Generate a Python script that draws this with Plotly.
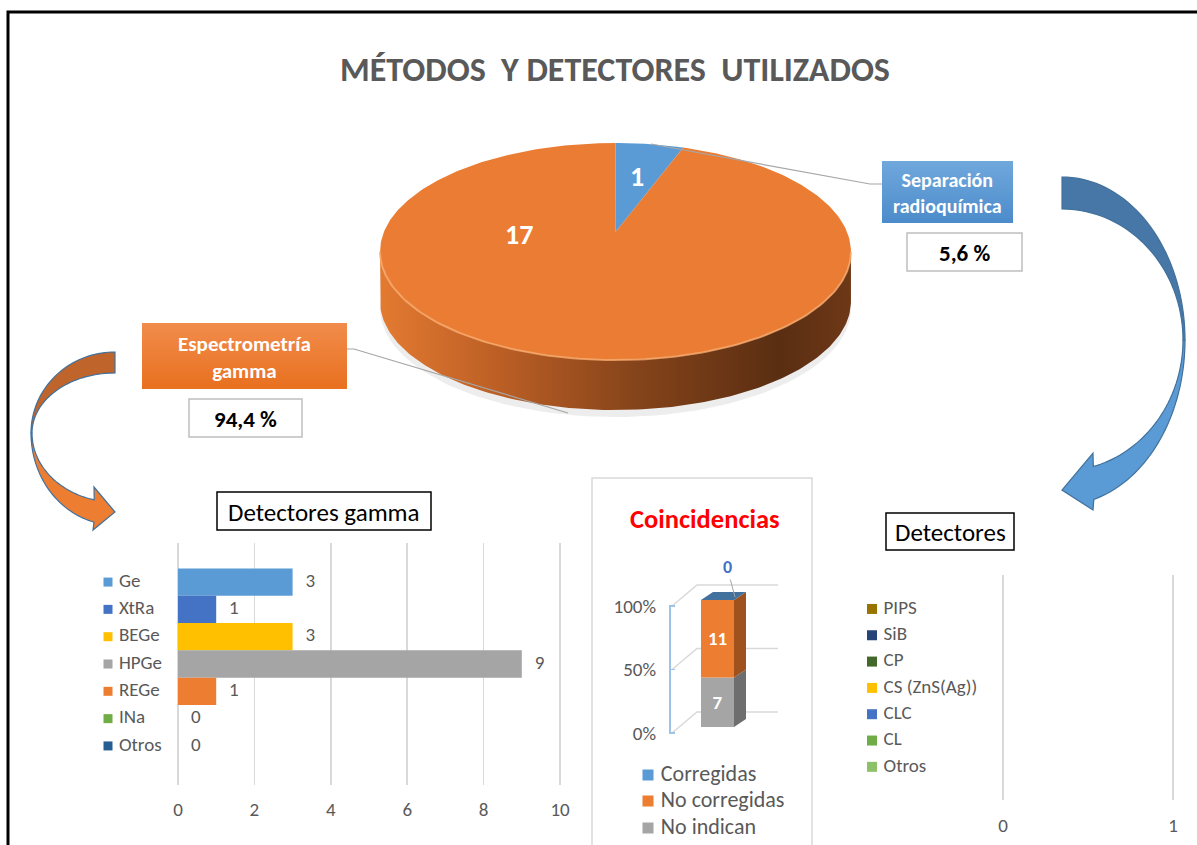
import numpy as np
import plotly.graph_objects as go

W, H = 1197, 845
FONT = "Carlito, Calibri, Lato, 'Open Sans', sans-serif"
GRAY = "#595959"

# ------------------------------------------------------------------ data
chart_title = "MÉTODOS\u00a0 Y DETECTORES\u00a0 UTILIZADOS"

method_names = ["Separación<br>radioquímica", "Espectrometría<br>gamma"]
method_counts = [1, 17]
method_share = ["5,6 %", "94,4 %"]
method_colors = ["#5B9BD5", "#EB7C33"]

gamma_title = "Detectores gamma"
gamma_detectors = ["Ge", "XtRa", "BEGe", "HPGe", "REGe", "INa", "Otros"]
gamma_counts = [3, 1, 3, 9, 1, 0, 0]
gamma_colors = ["#5B9BD5", "#4472C4", "#FFC000", "#A5A5A5", "#ED7D31", "#70AD47", "#255E91"]
gamma_ticks = [0, 2, 4, 6, 8, 10]

coin_title = "Coincidencias"
coin_series = ["Corregidas", "No corregidas", "No indican"]
coin_counts = [0, 11, 7]
coin_colors = ["#5B9BD5", "#ED7D31", "#A5A5A5"]
coin_side_colors = ["#41719C", "#A0521E", "#6E6E6E"]
coin_ticks = [0, 50, 100]
coin_ticklabels = ["0%", "50%", "100%"]

other_title = "Detectores"
other_detectors = ["PIPS", "SiB", "CP", "CS (ZnS(Ag))", "CLC", "CL", "Otros"]
other_counts = [0, 0, 0, 0, 0, 0, 0]
other_colors = ["#997300", "#264478", "#43682B", "#FFC000", "#4472C4", "#70AD47", "#8CC168"]
other_ticks = [0, 1]


def px(x):
    return x / W


def py(y):
    return 1 - y / H


fig = go.Figure()
shapes = []
annotations = []


def note(x, y, text, size, color, **kw):
    d = dict(x=px(x), y=py(y), xref="paper", yref="paper", text=text, showarrow=False,
             xanchor="center", yanchor="middle",
             font=dict(family=FONT, size=size, color=color))
    d.update(kw)
    annotations.append(d)


# ------------------------------------------------------------------ 3D pie (overlay axis x5/y5 in pixel units)
PCX, PCY = 615.5, 232.0
PA, PB, PE = 231.6, 105.0, 0.18
PDEPTH = 50


def disk_pt(theta_deg, f=1.0, dy=0.0):
    t = np.radians(theta_deg)
    s = 1.0 / (1.0 + PE * f * np.cos(t))
    return PCX + PA * f * np.sin(t) * s, PCY - PB * f * np.cos(t) * s + dy


ov = dict(xaxis="x5", yaxis="y5", hoverinfo="skip", showlegend=False)

# soft shadow
th = np.linspace(0, 360, 181)
sx, sy = disk_pt(th, 1.0, PDEPTH + 7)
fig.add_trace(go.Scatter(x=sx, y=sy, fill="toself", fillcolor="rgba(0,0,0,0.07)",
                         mode="lines", line=dict(width=0), **ov))

# side wall
tR = np.degrees(np.arccos(-PE))
th = np.linspace(tR, 360 - tR, 160)
tx, ty = disk_pt(th)
bx, by = disk_pt(th[::-1], 1.0, PDEPTH)
fig.add_trace(go.Scatter(
    x=np.concatenate([tx, bx]), y=np.concatenate([ty, by]), fill="toself",
    fillgradient=dict(type="horizontal",
                      colorscale=[[0, "#E37A31"], [0.25, "#BC5F25"], [0.55, "#84431A"],
                                  [0.85, "#5A2E12"], [1, "#6E3817"]]),
    mode="lines", line=dict(width=0), **ov))

# top face slices
total = sum(method_counts)
start = 0.0
for cnt, col in zip(method_counts, method_colors):
    a1 = start + 360.0 * cnt / total
    th = np.linspace(start, a1, max(4, int(a1 - start) + 2))
    xx, yy = disk_pt(th)
    fig.add_trace(go.Scatter(x=np.concatenate([[PCX], xx, [PCX]]),
                             y=np.concatenate([[PCY], yy, [PCY]]),
                             fill="toself", fillcolor=col, mode="lines",
                             line=dict(width=0), **ov))
    start = a1

# rim highlight on the front edge
th = np.linspace(tR, 360 - tR, 120)
rx_, ry_ = disk_pt(th)
fig.add_trace(go.Scatter(x=rx_, y=ry_, mode="lines",
                         line=dict(color="rgba(246,170,110,0.8)", width=2), **ov))

# slice labels
note(637, 176, "<b>%d</b>" % method_counts[0], 28, "white")
note(519, 234, "<b>%d</b>" % method_counts[1], 28, "white")


# ------------------------------------------------------------------ callout boxes
def grad_box(x0, y0, x1, y1, top, bottom):
    fig.add_trace(go.Scatter(x=[x0, x1, x1, x0, x0], y=[y0, y0, y1, y1, y0],
                             fill="toself",
                             fillgradient=dict(type="vertical",
                                               colorscale=[[0, bottom], [1, top]]),
                             mode="lines", line=dict(width=0), **ov))


grad_box(882, 161, 1013, 223, "#70A8DC", "#4C8BCB")
grad_box(142, 323, 347, 389, "#F18C4C", "#E8701F")

note(947.5, 193, "<b>%s</b>" % method_names[0], 20, "white")
note(244.5, 357, "<b>%s</b>" % method_names[1], 21, "white")

for (x0, y0, x1, y1), txt in zip([(907, 233, 1022, 271), (189, 399, 302, 437)], method_share):
    shapes.append(dict(type="rect", xref="paper", yref="paper", x0=px(x0), x1=px(x1),
                       y0=py(y0), y1=py(y1), fillcolor="white",
                       line=dict(color="#BFBFBF", width=1.5), layer="below"))
    note((x0 + x1) / 2, (y0 + y1) / 2 + 1, "<b>%s</b>" % txt, 23, "black")

# leader lines
for pts in ([(651, 144), (870, 184), (882, 184)], [(347, 349), (354, 349), (568, 413)]):
    path = "M " + " L ".join("%f,%f" % (px(a), py(b)) for a, b in pts)
    shapes.append(dict(type="path", xref="paper", yref="paper", path=path,
                       line=dict(color="#A6A6A6", width=1.2), layer="above"))


# ------------------------------------------------------------------ curved arrows
def ell(cx, cy, rx, ry, t, side):
    t = np.radians(t)
    return cx + side * rx * np.sin(t), cy - ry * np.cos(t)


def path_of(points):
    return "M " + " L ".join("%f,%f" % (px(a), py(b)) for a, b in points) + " Z"


def curved_arrow(cx, cy, side, ro, ri_top, ro_bot, ri_bot, rxo, rxi, tend,
                 barb_in, barb_out, tip, c_top, c_bot, edge):
    t1 = np.linspace(0, 90, 40)
    ox, oy = ell(cx, cy, rxo, ro, t1, side)
    ix, iy = ell(cx, cy, rxi, ri_top, t1[::-1], side)
    pts = list(zip(ox, oy)) + list(zip(ix, iy))
    shapes.append(dict(type="path", xref="paper", yref="paper", path=path_of(pts),
                       fillcolor=c_top, line=dict(color=edge, width=1.2), layer="above"))
    t2 = np.linspace(90, tend, 40)
    ox, oy = ell(cx, cy, rxo, ro_bot, t2, side)
    ix, iy = ell(cx, cy, rxi, ri_bot, t2[::-1], side)
    pts = list(zip(ox, oy)) + [barb_out, tip, barb_in] + list(zip(ix, iy))
    shapes.append(dict(type="path", xref="paper", yref="paper", path=path_of(pts),
                       fillcolor=c_bot, line=dict(color=edge, width=1.2), layer="above"))


curved_arrow(1062, 340, 1, 163, 131, 165, 131, 123, 121, 165,
             (1093, 453), (1093, 510), (1062, 490), "#4677A7", "#5B9BD5", "#41719C")
curved_arrow(115, 433, -1, 81, 60, 92, 69, 84, 83, 165.5,
             (94, 487), (93, 530), (115, 512), "#BF642A", "#ED7D31", "#41719C")

# ------------------------------------------------------------------ frame and panel boxes
shapes.append(dict(type="rect", xref="paper", yref="paper", x0=px(8), x1=px(1210),
                   y0=py(12), y1=py(860), line=dict(color="black", width=3), layer="above"))
shapes.append(dict(type="rect", xref="paper", yref="paper", x0=px(592), x1=px(812),
                   y0=py(478), y1=py(860), line=dict(color="#D9D9D9", width=1.5), layer="below"))

for (x0, y0, x1, y1), txt in zip([(217, 492, 431, 530), (886, 513, 1014, 550)],
                                 [gamma_title, other_title]):
    shapes.append(dict(type="rect", xref="paper", yref="paper", x0=px(x0), x1=px(x1),
                       y0=py(y0), y1=py(y1), line=dict(color="black", width=1.5),
                       fillcolor="white", layer="below"))
    note((x0 + x1) / 2, (y0 + y1) / 2 + 1, txt, 25, "black")

note(614.5, 70, "<b>%s</b>" % chart_title, 34, GRAY)
note(705, 519, "<b>%s</b>" % coin_title, 26.5, "#FF0000")

# ------------------------------------------------------------------ gamma detectors bar chart (x / y)
G0, GPPU = 178.0, 38.2
fig.add_trace(go.Bar(x=gamma_counts, y=gamma_detectors, orientation="h", width=1.0,
                     marker=dict(color=gamma_colors, line=dict(width=0)),
                     hoverinfo="skip", showlegend=False, xaxis="x", yaxis="y"))
fig.add_trace(go.Scatter(x=gamma_counts, y=gamma_detectors, mode="text",
                         text=["\u00a0\u00a0\u00a0%d" % v for v in gamma_counts],
                         textposition="middle right",
                         textfont=dict(family=FONT, size=19, color=GRAY),
                         cliponaxis=False, hoverinfo="skip", showlegend=False,
                         xaxis="x", yaxis="y"))
fig.add_trace(go.Scatter(x=[(108 - G0) / GPPU] * len(gamma_detectors), y=gamma_detectors,
                         mode="markers+text", text=["\u00a0" + s for s in gamma_detectors],
                         textposition="middle right",
                         marker=dict(symbol="square", size=9, color=gamma_colors),
                         textfont=dict(family=FONT, size=19, color=GRAY),
                         cliponaxis=False, hoverinfo="skip", showlegend=False,
                         xaxis="x", yaxis="y"))

# ------------------------------------------------------------------ other detectors chart (x2 / y2)
O0, OPPU = 1003.0, 170.0
fig.add_trace(go.Bar(x=other_counts, y=other_detectors, orientation="h", width=1.0,
                     marker=dict(color=other_colors), hoverinfo="skip", showlegend=False,
                     xaxis="x2", yaxis="y2"))
fig.add_trace(go.Scatter(x=[(872 - O0) / OPPU] * len(other_detectors), y=other_detectors,
                         mode="markers+text", text=["\u00a0" + s for s in other_detectors],
                         textposition="middle right",
                         marker=dict(symbol="square", size=10, color=other_colors),
                         textfont=dict(family=FONT, size=19, color=GRAY),
                         cliponaxis=False, hoverinfo="skip", showlegend=False,
                         xaxis="x2", yaxis="y2"))

# ------------------------------------------------------------------ coincidences 3D stacked column (x3 / y3, labels y4)
C0X, CPPU = 717.5, 33.0
CY0, CPPP = 727.0, 1.27     # bar axis: 0% at pixel 727
LY0 = 733.0                 # label axis: 0% at pixel 733
DDX, DDY = 12 / CPPU, 8 / CPPP
ctot = sum(coin_counts)
pcts = [100.0 * v / ctot for v in coin_counts]
base = 0.0
order = [2, 1, 0]  # bottom to top: No indican, No corregidas, Corregidas
for i in order:
    p = pcts[i]
    fig.add_trace(go.Bar(x=[0], y=[p], base=[base], width=1.0,
                         marker=dict(color=coin_colors[i], line=dict(width=0)),
                         text=["<b>%d</b>" % coin_counts[i]] if coin_counts[i] else None,
                         textposition="inside" if coin_counts[i] else "none",
                         insidetextanchor="middle",
                         textfont=dict(family=FONT, size=19, color="white"),
                         hoverinfo="skip", showlegend=False, xaxis="x3", yaxis="y3"))
    if p > 0:
        fig.add_trace(go.Scatter(x=[0.5, 0.5 + DDX, 0.5 + DDX, 0.5, 0.5],
                                 y=[base, base + DDY, base + p + DDY, base + p, base],
                                 fill="toself", fillcolor=coin_side_colors[i], mode="lines",
                                 line=dict(width=0), hoverinfo="skip", showlegend=False,
                                 xaxis="x3", yaxis="y3"))
    base += p
# top face
fig.add_trace(go.Scatter(x=[-0.5, 0.5, 0.5 + DDX, -0.5 + DDX, -0.5],
                         y=[base, base, base + DDY, base + DDY, base],
                         fill="toself", fillcolor=coin_side_colors[0], mode="lines",
                         line=dict(width=0), hoverinfo="skip", showlegend=False,
                         xaxis="x3", yaxis="y3"))

# back-wall gridlines (below the bar)
loff = (LY0 - CY0) / CPPP
for L in coin_ticks:
    pts = [((672 - C0X) / CPPU, L - loff), ((697 - C0X) / CPPU, L - loff + 21 / CPPP),
           ((778 - C0X) / CPPU, L - loff + 21 / CPPP)]
    path = "M " + " L ".join("%f,%f" % p for p in pts)
    shapes.append(dict(type="path", xref="x3", yref="y3", path=path,
                       line=dict(color="#D9D9D9", width=1.5), layer="below"))

# label axis line
fig.add_trace(go.Scatter(x=[(670 - C0X) / CPPU] * 2, y=[coin_ticks[0], coin_ticks[-1]],
                         mode="lines", line=dict(color="#9DC3E6", width=2),
                         cliponaxis=False, hoverinfo="skip", showlegend=False,
                         xaxis="x3", yaxis="y4"))

# zero label for "Corregidas"
annotations.append(dict(x=(735 - C0X) / CPPU, y=(CY0 - 597) / CPPP, xref="x3", yref="y3",
                        text="<b>%d</b>" % coin_counts[0], showarrow=True, arrowhead=0,
                        arrowwidth=1, arrowcolor="#A6A6A6", ax=-8, ay=-30, standoff=0,
                        font=dict(family=FONT, size=18, color="#4472C4")))

# legend of coincidences
fig.add_trace(go.Scatter(x=[648] * 3, y=[775, 801, 828], mode="markers+text",
                         text=["\u00a0" + s for s in coin_series], textposition="middle right",
                         marker=dict(symbol="square", size=11, color=coin_colors),
                         textfont=dict(family=FONT, size=22, color=GRAY),
                         cliponaxis=False, **ov))

# ------------------------------------------------------------------ layout
tickfont = dict(family=FONT, size=19, color=GRAY)
fig.update_layout(
    width=W, height=H, margin=dict(l=0, r=0, t=0, b=0),
    paper_bgcolor="white", plot_bgcolor="rgba(0,0,0,0)",
    template="none", barmode="overlay", showlegend=False,
    xaxis=dict(domain=[px(94), px(566)], range=[(94 - G0) / GPPU, (566 - G0) / GPPU],
               tickvals=gamma_ticks, showgrid=True, gridcolor="#D9D9D9", gridwidth=1.5,
               zeroline=False, showline=False, ticks="", tickfont=tickfont,
               ticklabelstandoff=11, anchor="y", automargin=False, fixedrange=True),
    yaxis=dict(domain=[py(785), py(543)], type="category", categoryorder="array",
               categoryarray=gamma_detectors, range=[7.43, -1.43], showticklabels=False,
               showgrid=False, zeroline=False, showline=False, anchor="x",
               automargin=False, fixedrange=True),
    xaxis2=dict(domain=[px(858.5), px(1181.5)],
                range=[(858.5 - O0) / OPPU, (1181.5 - O0) / OPPU],
                tickvals=other_ticks, showgrid=True, gridcolor="#D9D9D9", gridwidth=1.5,
                zeroline=False, showline=False, ticks="", tickfont=tickfont,
                ticklabelstandoff=12, anchor="y2", automargin=False, fixedrange=True),
    yaxis2=dict(domain=[py(800), py(575)], type="category", categoryorder="array",
                categoryarray=other_detectors, range=[7.26, -1.29], showticklabels=False,
                showgrid=False, zeroline=False, showline=False, anchor="x2",
                automargin=False, fixedrange=True),
    xaxis3=dict(domain=[px(669), px(790)], range=[(669 - C0X) / CPPU, (790 - C0X) / CPPU],
                visible=False, anchor="y3", fixedrange=True),
    yaxis3=dict(domain=[py(745), py(580)], range=[-(745 - CY0) / CPPP, (CY0 - 580) / CPPP],
                visible=False, anchor="x3", fixedrange=True),
    yaxis4=dict(overlaying="y3", anchor="x3", side="left",
                range=[-(745 - LY0) / CPPP, (LY0 - 580) / CPPP],
                tickvals=coin_ticks, ticktext=coin_ticklabels, ticks="inside", ticklen=6,
                tickwidth=1.5, tickcolor="#9DC3E6", showline=False, showgrid=False,
                zeroline=False, tickfont=tickfont, ticklabelstandoff=12,
                automargin=False, fixedrange=True),
    xaxis5=dict(domain=[0, 1], range=[0, W], visible=False, anchor="y5", fixedrange=True),
    yaxis5=dict(domain=[0, 1], range=[H, 0], visible=False, anchor="x5", fixedrange=True),
    shapes=shapes, annotations=annotations,
)

fig.write_html("out.html", config={"displayModeBar": False, "staticPlot": True},
               post_script="document.body.style.margin='0px';document.body.style.overflow='hidden';")
